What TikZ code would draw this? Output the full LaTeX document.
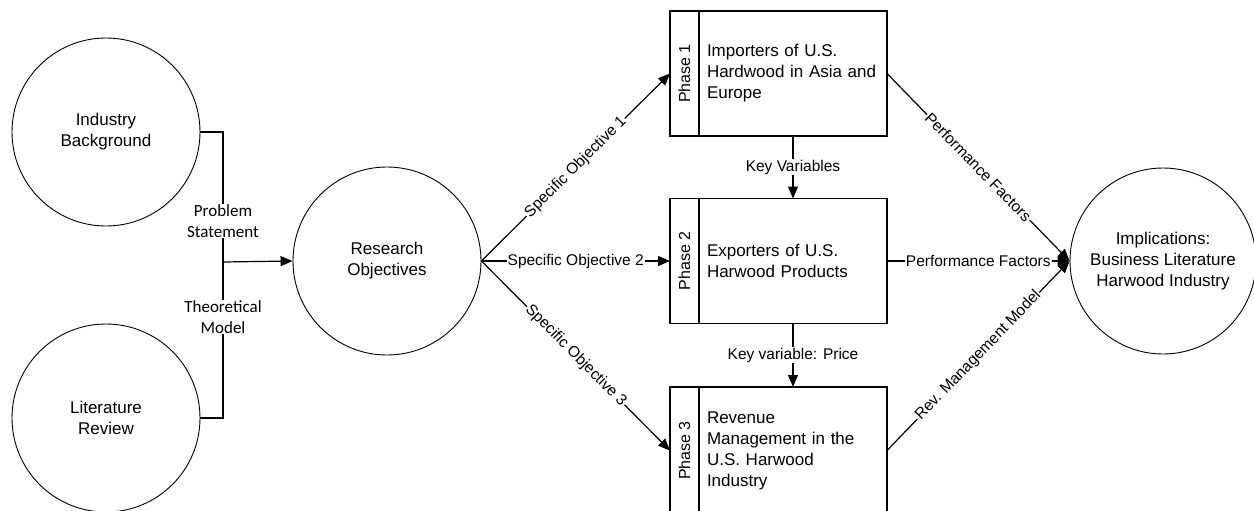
\documentclass[tikz,border=0pt]{standalone}
\usepackage{fontspec}
\setmainfont{Liberation Sans}
\newfontfamily\calibrifont{Carlito}
\usetikzlibrary{arrows.meta,positioning,calc}

\begin{document}
\begin{tikzpicture}[x=1pt,y=-1pt,
  bubble/.style={circle,draw,line width=0.9pt,minimum size=188pt,inner sep=0pt,align=center,font=\fontsize{17}{21}\selectfont},
  phasetag/.style={draw,line width=1.3pt,outer sep=0pt,minimum width=29pt,minimum height=125pt,inner sep=0pt},
  phasebody/.style={draw,line width=1.3pt,outer sep=0pt,minimum width=188pt,minimum height=125pt,text width=172pt,inner sep=8pt,align=left,font=\fontsize{17}{21}\selectfont},
  phasename/.style={rotate=90,font=\fontsize{16}{19}\selectfont},
  lbl/.style={fill=white,inner sep=1pt,font=\fontsize{15.5}{19}\selectfont},
  note/.style={fill=white,inner sep=1pt,align=center,font=\calibrifont\fontsize{17}{21}\selectfont},
  flow/.style={line width=1.2pt,-{Triangle[length=12pt,width=10pt]}},
]
\useasboundingbox (0,0) rectangle (1254,511);

% circles
\node[bubble] (IB) at (106,132) {Industry\\Background};
\node[bubble] (LR) at (106,418) {Literature\\Review};
\node[bubble] (RO) at (387,261) {Research\\Objectives};
\node[bubble,minimum size=186pt] (IM) at (1163,261) {Implications:\\Business Literature\\Harwood Industry};

% phases
\node[phasebody] (T1) at (793,73.5) {Importers of U.S.\\Hardwood in Asia and\\Europe};
\node[phasetag,left=0pt of T1] (S1) {};
\node[phasename] at (S1) {Phase 1};
\node[phasebody] (T2) at (793,261) {Exporters of U.S.\\Harwood Products};
\node[phasetag,left=0pt of T2] (S2) {};
\node[phasename] at (S2) {Phase 2};
\node[phasebody,minimum height=127pt] (T3) at (793,450.5) {Revenue\\Management in the\\U.S. Harwood\\Industry};
\node[phasetag,minimum height=127pt,left=0pt of T3] (S3) {};
\node[phasename] at (S3) {Phase 3};

% inputs
\coordinate (J) at (223,262);
\draw[line width=1.2pt] (IB.east) -| (J) |- (LR.east);
\draw[flow] (J) -- (RO.west);
\node[note] (PS) at (223,221) {Problem\\Statement};
\node[note] (TM) at (223,317) {Theoretical\\Model};

% objectives
\draw[flow] (RO.east) -- node[lbl,sloped] {Specific Objective 1} (S1.west);
\draw[flow] (RO.east) -- node[lbl] {Specific Objective 2} (S2.west);
\draw[flow] (RO.east) -- node[lbl,sloped] {Specific Objective 3} (S3.west);

% between phases
\draw[flow] (T1.south) -- node[lbl] {Key Variables} (T2.north);
\draw[flow] (T2.south) -- node[lbl] {Key variable: Price} (T3.north);

% outputs
\draw[flow] (T1.east) -- node[lbl,sloped] {Performance Factors} (IM.west);
\draw[flow] (T2.east) -- node[lbl] {Performance Factors} (IM.west);
\draw[flow] (T3.east) -- node[lbl,sloped] {Rev. Management Model} (IM.west);
\end{tikzpicture}
\end{document}
